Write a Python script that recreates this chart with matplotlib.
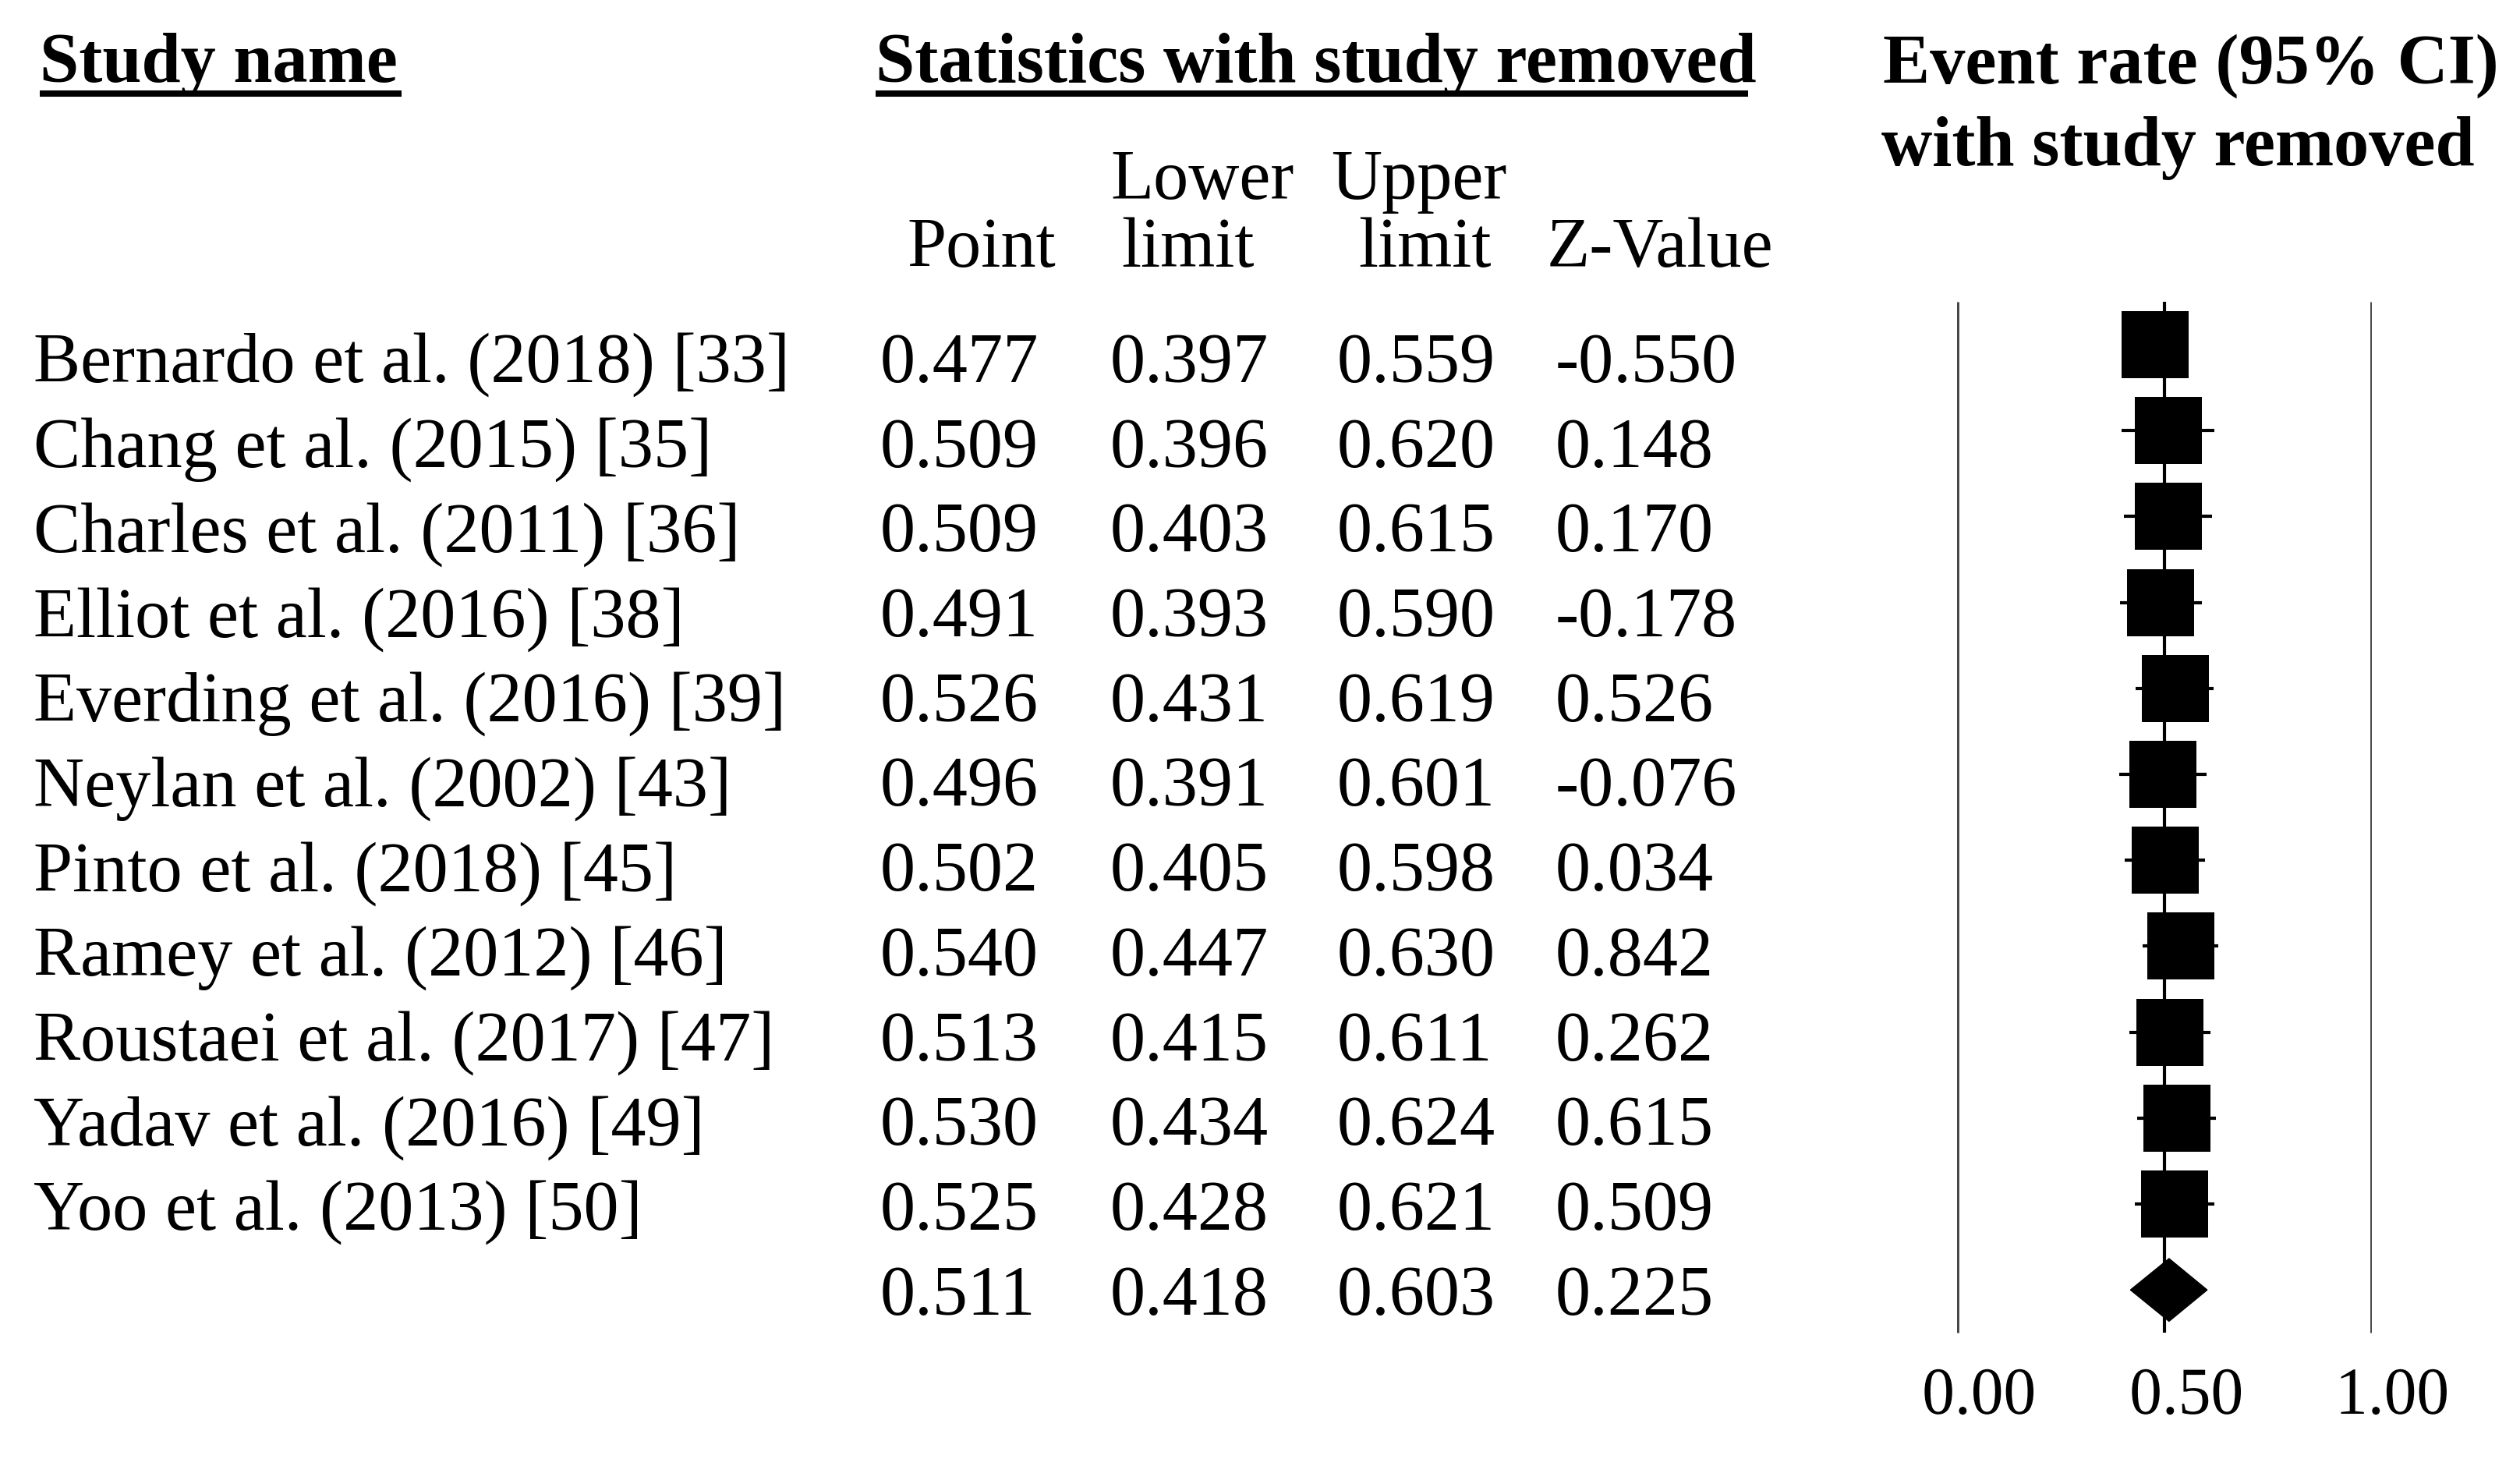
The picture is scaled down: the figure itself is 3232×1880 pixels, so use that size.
import matplotlib
matplotlib.use("Agg")
import matplotlib.pyplot as plt
import matplotlib.transforms as mtransforms
from matplotlib.patches import Rectangle, Polygon, PathPatch
from matplotlib.textpath import TextPath
from matplotlib.font_manager import FontProperties

# data: one-study-removed sensitivity analysis
studies = [
    "Bernardo et al. (2018) [33]",
    "Chang et al. (2015) [35]",
    "Charles et al. (2011) [36]",
    "Elliot et al. (2016) [38]",
    "Everding et al. (2016) [39]",
    "Neylan et al. (2002) [43]",
    "Pinto et al. (2018) [45]",
    "Ramey et al. (2012) [46]",
    "Roustaei et al. (2017) [47]",
    "Yadav et al. (2016) [49]",
    "Yoo et al. (2013) [50]",
]
point = [0.477, 0.509, 0.509, 0.491, 0.526, 0.496, 0.502, 0.540, 0.513, 0.530, 0.525]
lower = [0.397, 0.396, 0.403, 0.393, 0.431, 0.391, 0.405, 0.447, 0.415, 0.434, 0.428]
upper = [0.559, 0.620, 0.615, 0.590, 0.619, 0.601, 0.598, 0.630, 0.611, 0.624, 0.621]
zvalue = [-0.550, 0.148, 0.170, -0.178, 0.526, -0.076, 0.034, 0.842, 0.262, 0.615, 0.509]

pooled_point = 0.511
pooled_lower = 0.418
pooled_upper = 0.603
pooled_z = 0.225

ticks = [0.0, 0.5, 1.0]
tick_labels = ["0.00", "0.50", "1.00"]

W, H = 3232, 1880
FS = 65
SERIF = "Liberation Serif"

fig = plt.figure(figsize=(W / 100, H / 100), dpi=100)

# table part, laid out in pixel units
ax_t = fig.add_axes([0, 0, 1, 1])
ax_t.set_xlim(0, W)
ax_t.set_ylim(H, 0)
ax_t.axis("off")


def txt(x, y, s, ha="left", bold=False):
    ax_t.text(x, y, s, ha=ha, va="baseline", fontsize=FS, family=SERIF,
              fontweight="bold" if bold else "normal", color="black")


# headers
txt(51, 105, "Study name", bold=True)
txt(1123, 105, "Statistics with study removed", bold=True)
ax_t.hlines(120, 51, 515, color="black", lw=5.8)
ax_t.hlines(120, 1123, 2242, color="black", lw=5.8)
txt(2415, 107, "Event rate (95% CI)", bold=True)
txt(2413, 212, "with study removed", bold=True)

txt(1542, 255, "Lower", ha="center")
txt(1820, 255, "Upper", ha="center")
txt(1259, 342, "Point", ha="center")
txt(1523, 342, "limit", ha="center")
txt(1827, 342, "limit", ha="center")
txt(2129, 342, "Z-Value", ha="center")

# rows
col_x = [1129, 1424, 1715, 1995]
base0, row_h = 490, 108.7
for i, name in enumerate(studies):
    y = base0 + i * row_h
    txt(43, y, name)
    for cx, v in zip(col_x, [point[i], lower[i], upper[i], zvalue[i]]):
        txt(cx, y, f"{v:.3f}")

y = base0 + len(studies) * row_h
for cx, v in zip(col_x, [pooled_point, pooled_lower, pooled_upper, pooled_z]):
    txt(cx, y, f"{v:.3f}")

# forest plot
mark0, mark_h = 442, 110.2
ax_f = fig.add_axes([2510 / W, 0, 532 / W, 1])
ax_f.set_xlim(0, 1)
ax_f.set_ylim((H - mark0) / mark_h, -mark0 / mark_h)
ax_f.axis("off")

n = len(studies)
rows = list(range(n))
ax_f.vlines([ticks[0], ticks[-1]], -0.5, n + 0.5, color="#444444", lw=3.5)
ax_f.vlines(ticks[1], -0.5, n + 0.5, color="black", lw=3)
ax_f.hlines(rows, lower, upper, color="black", lw=3)

sq_w, sq_h = 0.162, 0.78
for i in rows:
    ax_f.add_patch(Rectangle((point[i] - sq_w / 2, i - sq_h / 2), sq_w, sq_h,
                             facecolor="black", edgecolor="none"))

ax_f.add_patch(Polygon([(pooled_lower, n), (pooled_point, n - 0.365),
                        (pooled_upper, n), (pooled_point, n + 0.365)],
                       closed=True, facecolor="black", edgecolor="black", lw=1))

# tick labels, slightly condensed like the original
fp = FontProperties(family=SERIF)
tick_row = (1785 - mark0) / mark_h
for t, lab in zip(ticks, tick_labels):
    tp = TextPath((0, 0), lab, size=86, prop=fp)
    bb = tp.get_extents()
    tr = (mtransforms.Affine2D()
          .translate(-(bb.x0 + bb.x1) / 2, -(bb.y0 + bb.y1) / 2)
          .scale(0.97, 1)
          + mtransforms.ScaledTranslation(t + 0.053, tick_row, ax_f.transData))
    ax_f.add_patch(PathPatch(tp, transform=tr, facecolor="black",
                             edgecolor="none", clip_on=False))

fig.savefig("out.png", dpi=100, facecolor="white")
